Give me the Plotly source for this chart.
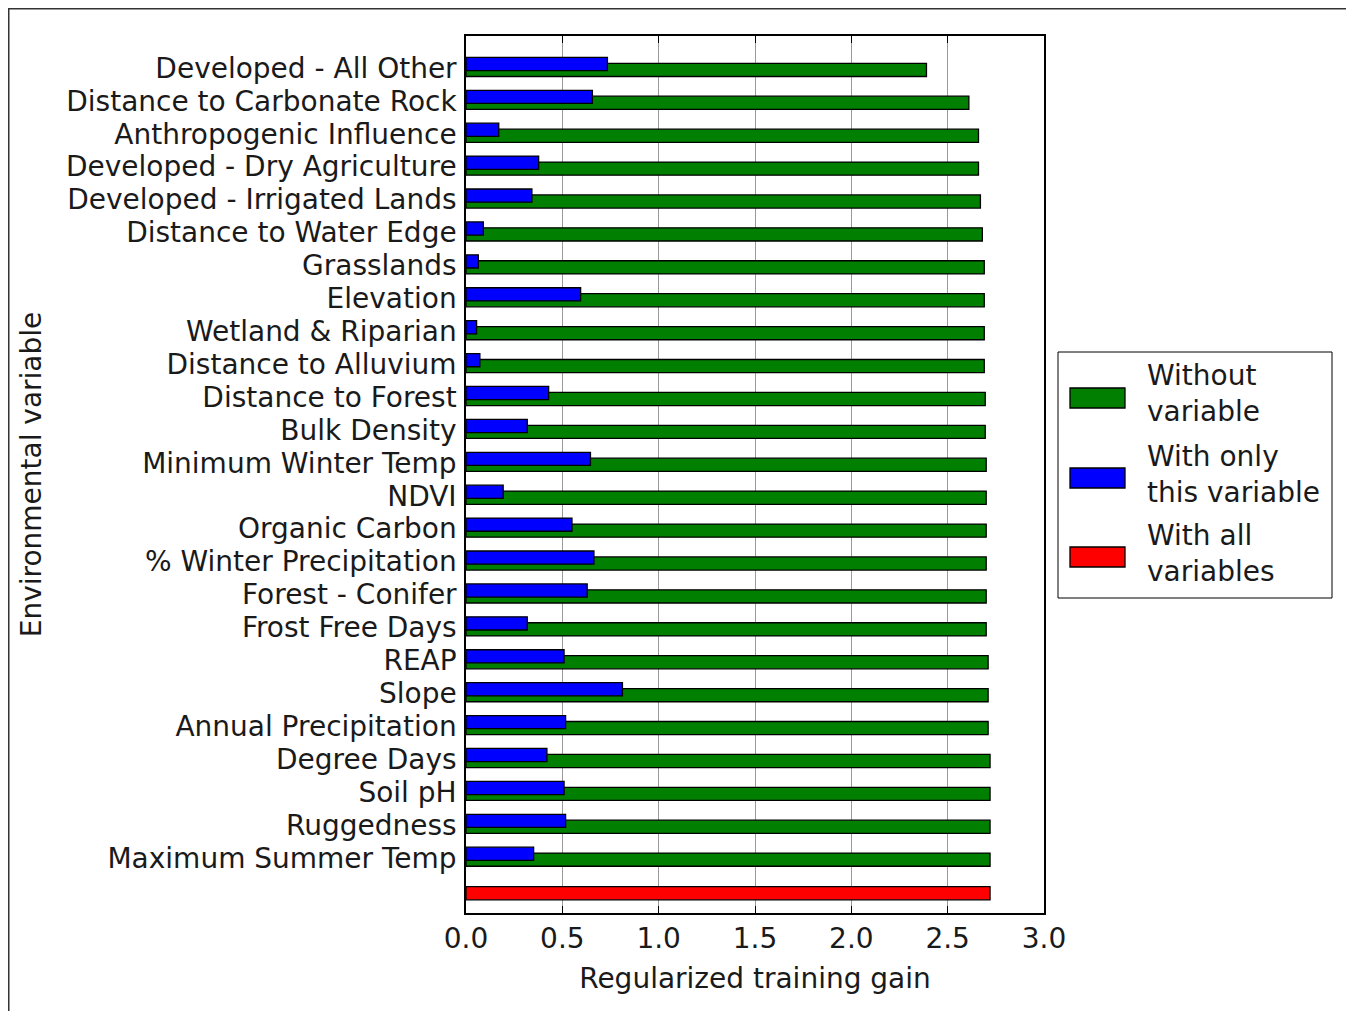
import plotly.graph_objects as go
import numpy as np

categories = [
    "Developed - All Other", "Distance to Carbonate Rock", "Anthropogenic Influence",
    "Developed - Dry Agriculture", "Developed - Irrigated Lands", "Distance to Water Edge",
    "Grasslands", "Elevation", "Wetland & Riparian", "Distance to Alluvium",
    "Distance to Forest", "Bulk Density", "Minimum Winter Temp", "NDVI",
    "Organic Carbon", "% Winter Precipitation", "Forest - Conifer", "Frost Free Days",
    "REAP", "Slope", "Annual Precipitation", "Degree Days", "Soil pH", "Ruggedness",
    "Maximum Summer Temp",
]
without_variable = [2.39, 2.61, 2.66, 2.66, 2.67, 2.68, 2.69, 2.69, 2.69, 2.69,
                    2.695, 2.695, 2.70, 2.70, 2.70, 2.70, 2.70, 2.70, 2.71, 2.71,
                    2.71, 2.72, 2.72, 2.72, 2.72]
only_variable = [0.734, 0.656, 0.170, 0.377, 0.342, 0.090, 0.064, 0.595, 0.055, 0.072,
                 0.429, 0.318, 0.646, 0.193, 0.550, 0.664, 0.629, 0.318, 0.509, 0.812,
                 0.517, 0.420, 0.509, 0.517, 0.351]
all_variables = [2.72]
x_ticks = [0.0, 0.5, 1.0, 1.5, 2.0, 2.5, 3.0]
legend_labels = ["Without<br>variable", "With only<br>this variable", "With all<br>variables"]

GREEN, BLUE, RED = "#007f00", "#0000ff", "#ff0000"
FONT = "DejaVu Sans, Verdana, sans-serif"
FS = 28

OFF = 8  # browser body margin
W, H = 1354 - OFF, 1011 - OFF
# plot area in page pixels
PL, PR, PT, PB = 466, 1044, 36, 913
L, R, T, B = PL - OFF, PR - OFF, PT - OFF, PB - OFF

pos = np.arange(len(categories))

fig = go.Figure()
fig.add_trace(go.Bar(
    x=without_variable, y=pos, orientation="h", width=0.4, offset=-0.14,
    marker=dict(color=GREEN, line=dict(color="black", width=1.3)),
    name="Without variable", showlegend=False,
))
fig.add_trace(go.Bar(
    x=only_variable, y=pos, orientation="h", width=0.4, offset=-0.32,
    marker=dict(color=BLUE, line=dict(color="black", width=1.3)),
    name="With only this variable", showlegend=False,
))
fig.add_trace(go.Bar(
    x=all_variables, y=[len(categories)], orientation="h", width=0.4, offset=-0.12,
    marker=dict(color=RED, line=dict(color="black", width=1.3)),
    name="With all variables", showlegend=False,
))

def px_x(p):  # page pixel -> paper
    return (p - PL) / (PR - PL)

def px_y(p):
    return (PB - p) / (PB - PT)

shapes = []
annotations = []
# custom legend box
shapes.append(dict(type="rect", xref="paper", yref="paper",
                   x0=px_x(1058), x1=px_x(1332), y0=px_y(598), y1=px_y(352),
                   line=dict(color="black", width=1), fillcolor="white"))
legend_colors = [GREEN, BLUE, RED]
sw_centers = [398, 478, 557]
for c, yc, lab in zip(legend_colors, sw_centers, legend_labels):
    shapes.append(dict(type="rect", xref="paper", yref="paper",
                       x0=px_x(1070), x1=px_x(1125), y0=px_y(yc + 10), y1=px_y(yc - 10),
                       line=dict(color="black", width=1.3), fillcolor=c))
    annotations.append(dict(xref="paper", yref="paper", x=px_x(1145), y=px_y(yc - 4),
                            text=lab, showarrow=False, xanchor="left", yanchor="middle",
                            align="left", font=dict(family=FONT, size=FS, color="#1a1a1a")))
# outer frame of the picture
shapes.append(dict(type="rect", xref="paper", yref="paper",
                   x0=px_x(OFF + 0.75), x1=px_x(1350), y0=px_y(1040), y1=px_y(OFF + 0.75),
                   line=dict(color="#333333", width=1.5), fillcolor="rgba(0,0,0,0)",
                   layer="below"))

fig.update_layout(
    width=W, height=H,
    margin=dict(l=L, r=W - R, t=T, b=H - B, autoexpand=False),
    paper_bgcolor="white", plot_bgcolor="white",
    barmode="overlay",
    font=dict(family=FONT, size=FS, color="#1a1a1a"),
    shapes=shapes, annotations=annotations,
    showlegend=False,
)
fig.update_xaxes(
    range=[0, 3], tickvals=x_ticks, ticktext=[f"{v:.1f}" for v in x_ticks],
    showline=True, linecolor="black", linewidth=1.5, mirror="ticks",
    ticks="inside", ticklen=7, tickcolor="black",
    showgrid=True, gridcolor="#9a9a9a", gridwidth=1, zeroline=False,
    tickfont=dict(family=FONT, size=FS), ticklabelstandoff=0,
    title=dict(text="Regularized training gain", font=dict(family=FONT, size=FS), standoff=14),
)
fig.update_yaxes(
    range=[25.68, -0.97], tickvals=list(pos), ticktext=categories,
    showline=True, linecolor="black", linewidth=1.5, mirror=True,
    ticks="", showgrid=False, zeroline=False,
    tickfont=dict(family=FONT, size=FS), ticklabelstandoff=2,
    title=dict(text="Environmental variable", font=dict(family=FONT, size=FS), standoff=16),
)

fig.write_html("out.html")
